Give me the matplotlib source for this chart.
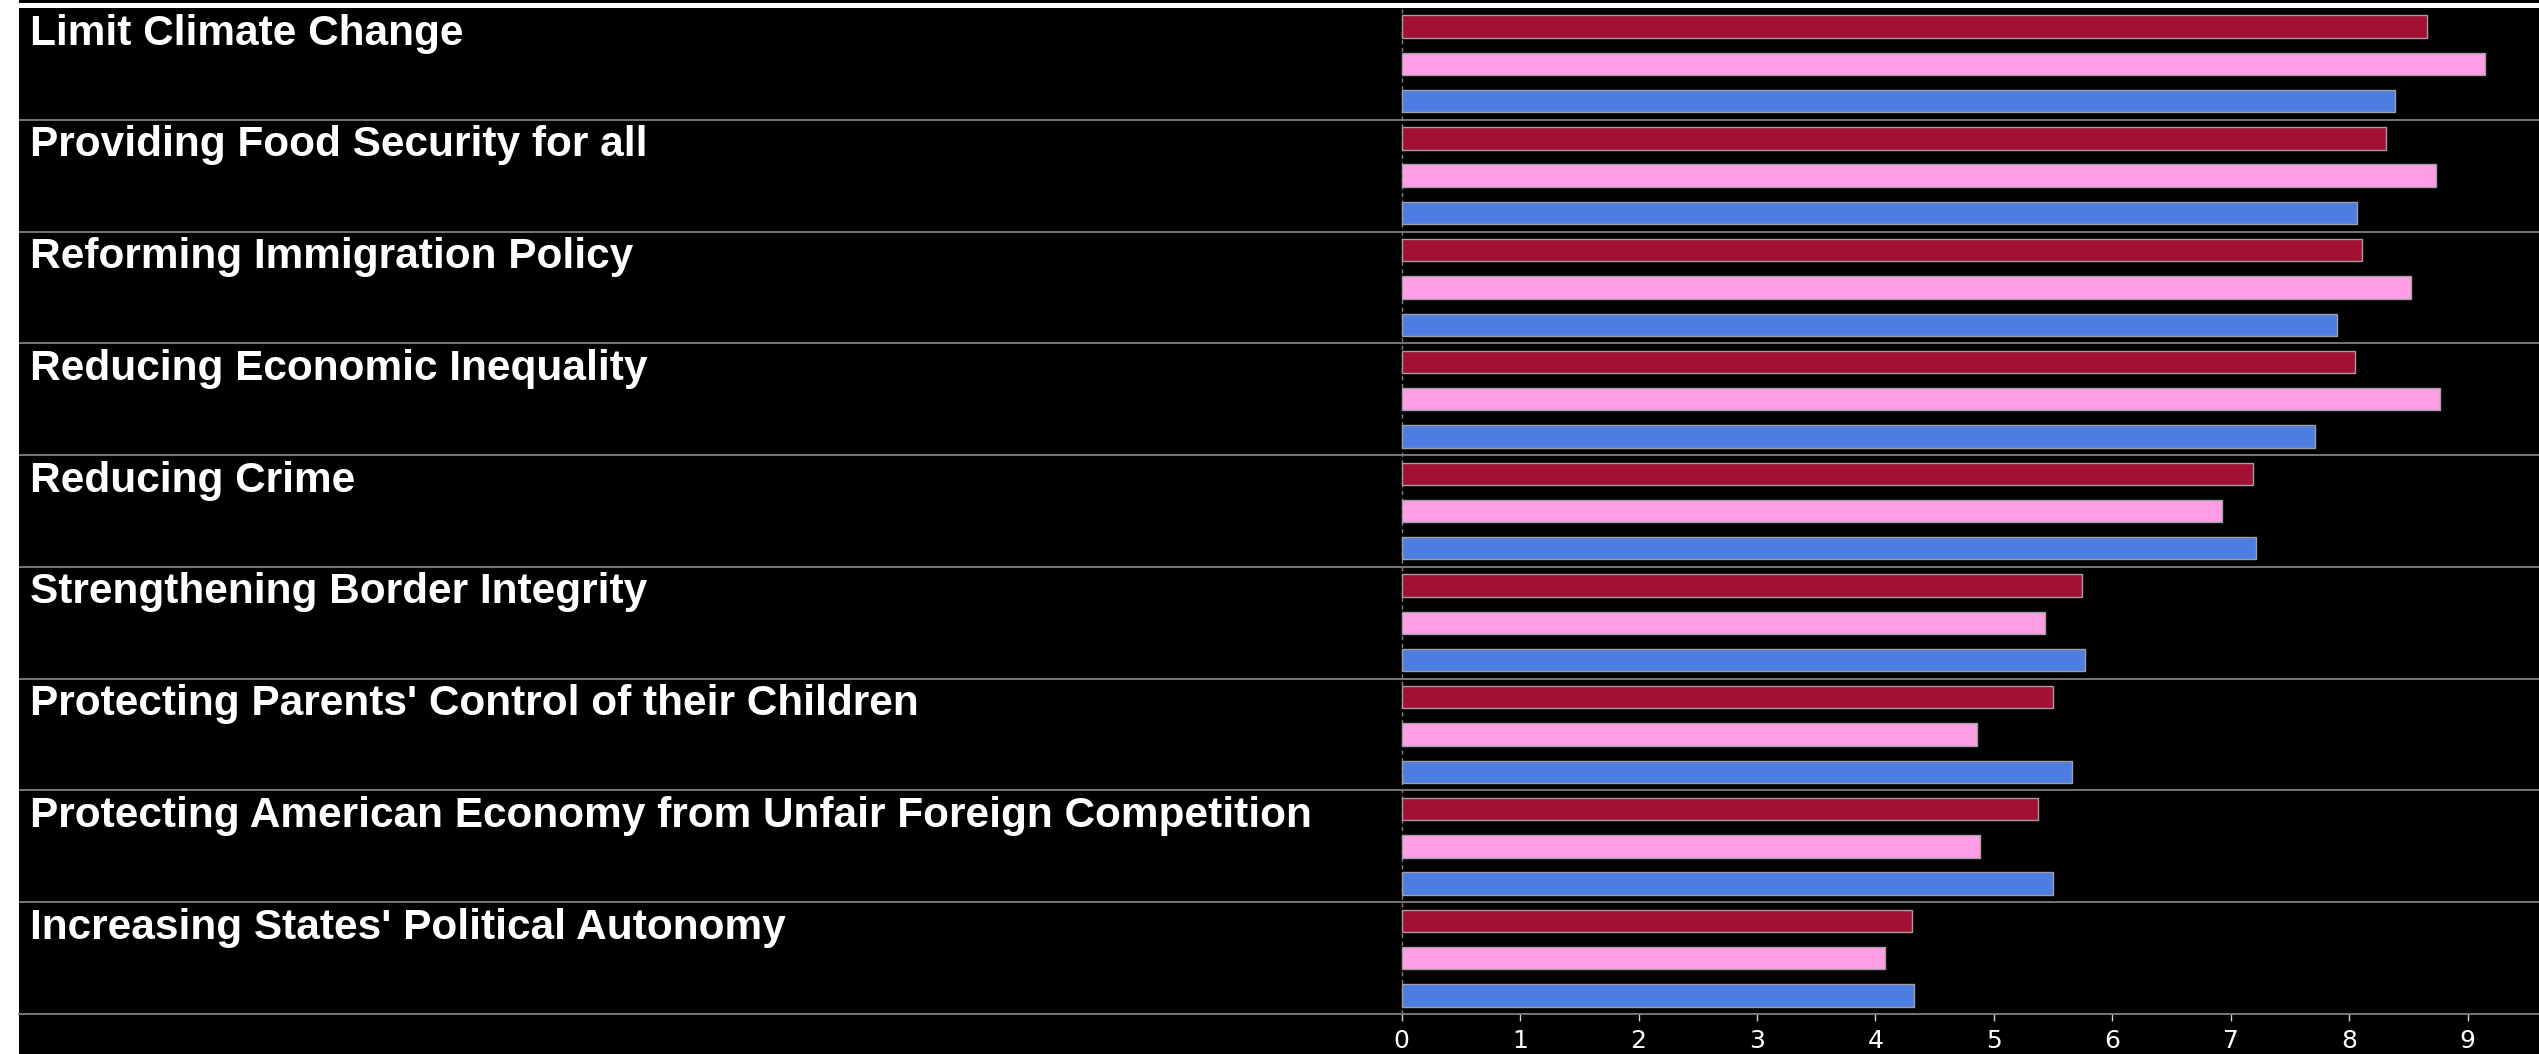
import numpy as np
import matplotlib
matplotlib.use("Agg")
import matplotlib.pyplot as plt
from matplotlib.patches import Rectangle
from matplotlib.transforms import blended_transform_factory

# data, top group first
topics = [
    "Limit Climate Change",
    "Providing Food Security for all",
    "Reforming Immigration Policy",
    "Reducing Economic Inequality",
    "Reducing Crime",
    "Strengthening Border Integrity",
    "Protecting Parents' Control of their Children",
    "Protecting American Economy from Unfair Foreign Competition",
    "Increasing States' Political Autonomy",
]
red_vals = [8.66, 8.31, 8.11, 8.05, 7.19, 5.74, 5.50, 5.37, 4.31]
pink_vals = [9.15, 8.73, 8.52, 8.77, 6.93, 5.43, 4.86, 4.88, 4.08]
blue_vals = [8.39, 8.07, 7.90, 7.71, 7.21, 5.77, 5.66, 5.50, 4.33]
x_ticks = list(range(10))

colors = ["#A21034", "#FF9EE6", "#4E7DE1"]

W, H = 2539, 1054
fig = plt.figure(figsize=(W / 100, H / 100), dpi=100, facecolor="white")

# black canvas with white strip on the left and near the top
fig.patches.append(Rectangle((19 / W, 0), 1 - 19 / W, 1 - 8 / H, transform=fig.transFigure,
                             facecolor="black", edgecolor="none", zorder=-10))
fig.patches.append(Rectangle((19 / W, 1 - 3 / H), 1 - 19 / W, 3 / H, transform=fig.transFigure,
                             facecolor="black", edgecolor="none", zorder=-10))

ax = fig.add_axes([19 / W, 40 / H, 1 - 19 / W, (1014 - 8) / H])
ax.set_facecolor("black")

n = len(topics)
base = np.arange(n) * 3
bar_h = 0.6
for k, vals in enumerate([red_vals, pink_vals, blue_vals]):
    ax.barh(base + 0.5 + k, vals, height=bar_h, color=colors[k],
            edgecolor="#A0A0A0", linewidth=1.0, zorder=3)

# group separators
for g in range(1, n):
    ax.axhline(3 * g, color="#808080", linewidth=1.3, zorder=2)

# dashed zero line
ax.axvline(0, color="#808080", linewidth=1.0, linestyle=(0, (3, 2.5)), zorder=1)

# topic labels
trans = blended_transform_factory(ax.transAxes, ax.transData)
for g, name in enumerate(topics):
    ax.text(11 / (W - 19), 3 * g + 0.98, name, transform=trans, ha="left", va="baseline",
            color="white", fontsize=30.5, fontweight="bold", family="Liberation Sans")

ax.set_xlim((19 - 1401.6) / 118.45, (W - 1401.6) / 118.45)
ax.set_ylim(3 * n, 0)
ax.set_yticks([])
ax.set_xticks(x_ticks)
ax.set_xticklabels([str(t) for t in x_ticks])
ax.tick_params(axis="x", colors="#D0D0D0", length=5, width=1, pad=5.5,
               labelsize=18, labelcolor="white")

for side in ["top", "left", "right"]:
    ax.spines[side].set_visible(False)
ax.spines["bottom"].set_color("#808080")
ax.spines["bottom"].set_linewidth(1.3)

fig.savefig("out.png", dpi=100, facecolor=fig.get_facecolor())
